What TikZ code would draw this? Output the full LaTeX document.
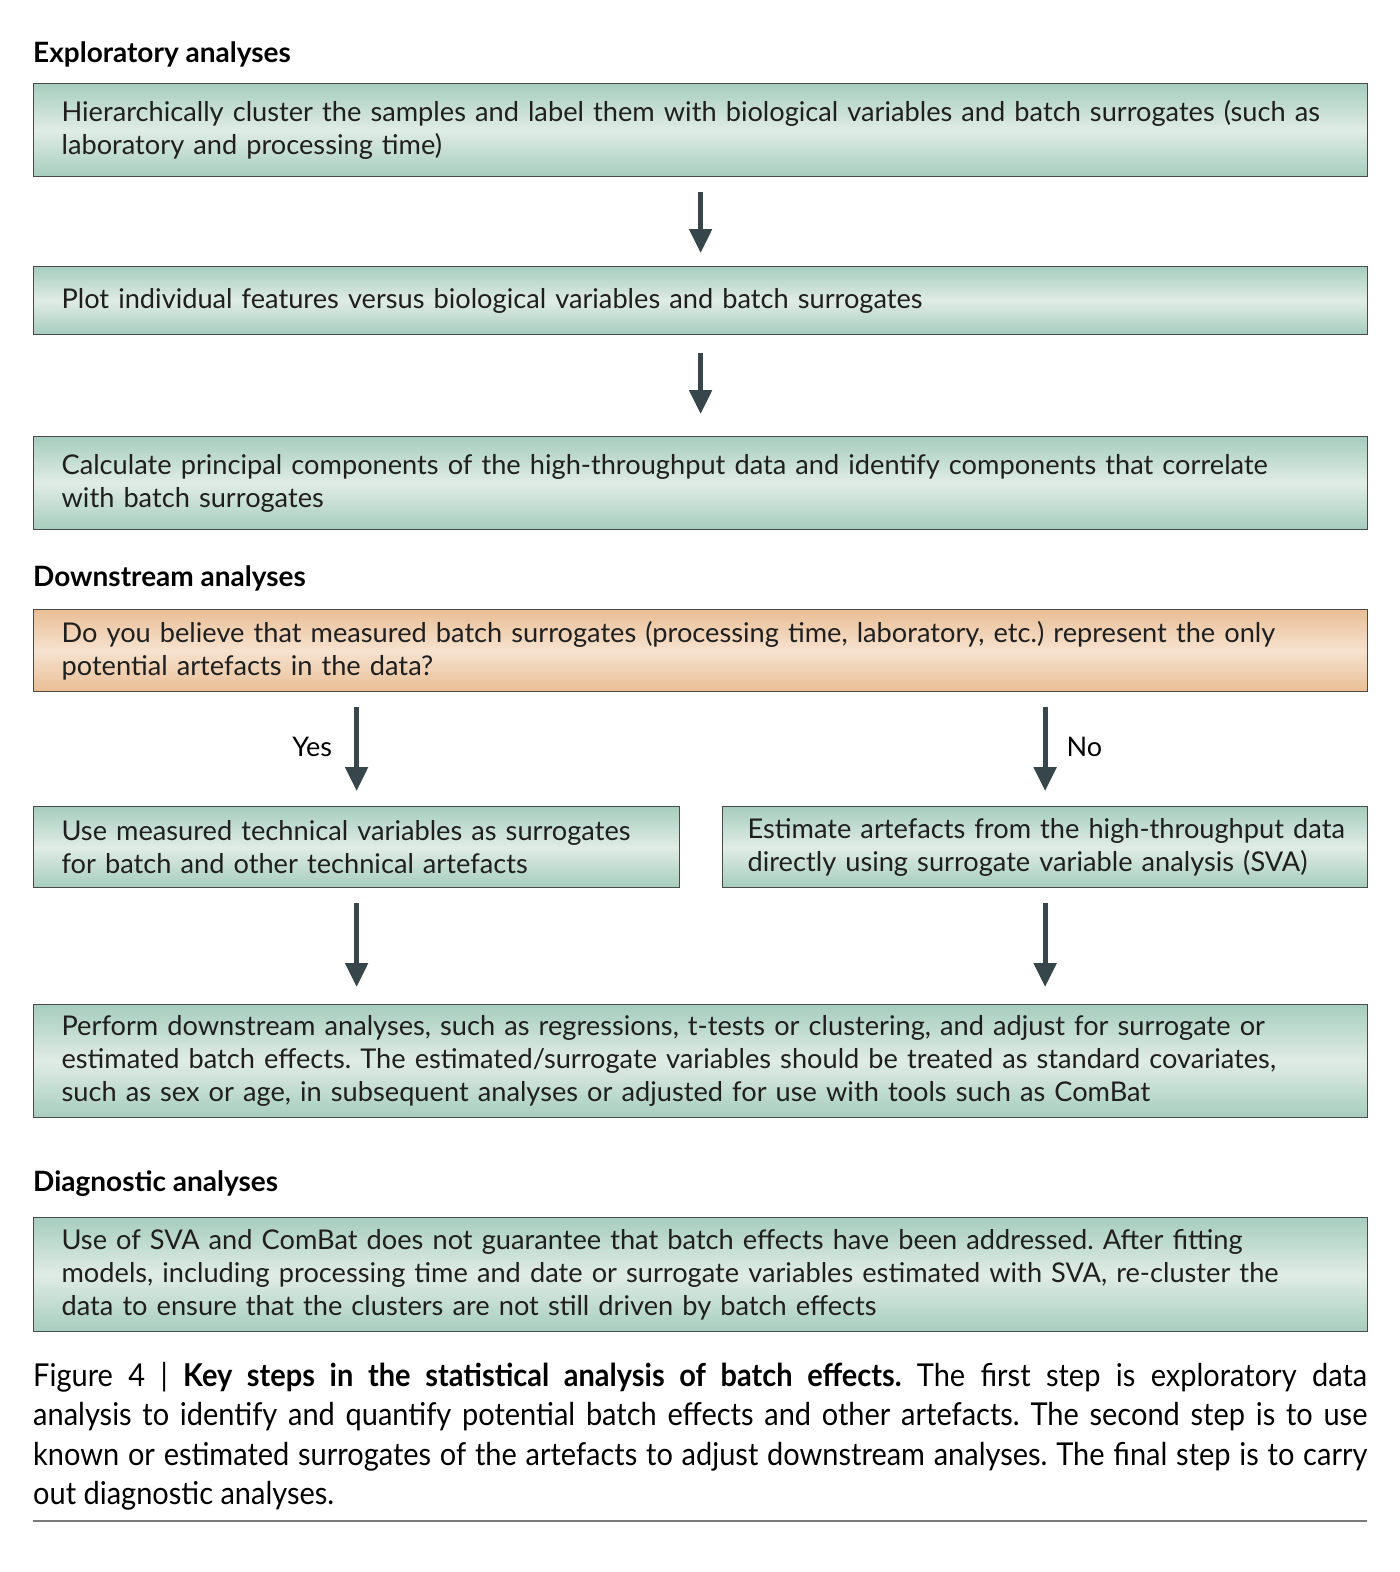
\documentclass[tikz,border=0pt]{standalone}
\usepackage{fontspec}
\setmainfont{Lato}
\newfontfamily\capfont[FakeStretch=0.92]{Lato}
\usetikzlibrary{arrows.meta,calc}
\frenchspacing
\definecolor{tealedge}{HTML}{A6CDBF}
\definecolor{tealmid}{HTML}{E0ECE6}
\definecolor{orgedge}{HTML}{E9BE95}
\definecolor{orgmid}{HTML}{F6E2CF}
\definecolor{boxline}{HTML}{4A4A4A}
\definecolor{arrowcol}{HTML}{37464A}
\definecolor{rulecol}{HTML}{7A7A7A}
\tikzset{
  box/.style={draw=boxline, line width=1.2pt, anchor=north west, align=left,
    inner xsep=28pt, inner ysep=0pt, font=\fontsize{27.2}{33}\selectfont\frenchspacing, text=black!88},
  tealbox/.style={box, top color=tealedge, bottom color=tealedge, middle color=tealmid},
  orangebox/.style={box, top color=orgedge, bottom color=orgedge, middle color=orgmid},
  heading/.style={anchor=west, inner sep=0pt, font=\fontsize{28}{30}\selectfont\bfseries},
  flowarrow/.style={draw=arrowcol, line width=5pt, -{Triangle[width=22pt,length=24pt]}},
  answer/.style={font=\fontsize{27}{30}\selectfont, inner sep=0pt},
  capline/.style={anchor=base west, inner sep=0pt, font=\capfont\fontsize{31.5}{39}\selectfont\frenchspacing}
}
\begin{document}
\begin{tikzpicture}[x=1pt,y=-1pt]
\useasboundingbox (0,0) rectangle (1400,1572);
\fill[white] (0,0) rectangle (1400,1572);

% Exploratory analyses
\node[heading] (h1) at (33,54) {Exploratory analyses};
\node[tealbox, text width=1278pt, minimum height=93pt] (b1) at (33,83)
  {Hierarchically cluster the samples and label them with biological variables and batch surrogates (such as\\laboratory and processing time)};
\node[tealbox, text width=1278pt, minimum height=68pt] (b2) at (33,266)
  {Plot individual features versus biological variables and batch surrogates};
\node[tealbox, text width=1278pt, minimum height=93pt] (b3) at (33,436)
  {Calculate principal components of the high-throughput data and identify components that correlate\\with batch surrogates};

\draw[flowarrow] ([yshift=-15pt]b1.south) -- ([yshift=13pt]b2.north);
\draw[flowarrow] ([yshift=-18pt]b2.south) -- ([yshift=22pt]b3.north);

% Downstream analyses
\node[heading] (h2) at (33,578) {Downstream analyses};
\node[orangebox, text width=1278pt, minimum height=82pt] (b4) at (33,609)
  {Do you believe that measured batch surrogates (processing time, laboratory, etc.) represent the only\\potential artefacts in the data?};
\node[tealbox, text width=590pt, minimum height=81pt] (b5) at (33,806)
  {Use measured technical variables as surrogates\\for batch and other technical artefacts};
\node[tealbox, text width=621pt, minimum height=81pt, inner xsep=12pt] (b6) at (722,806)
  {\hspace*{13pt}Estimate artefacts from the high-throughput data\\\hspace*{13pt}directly using surrogate variable analysis (SVA)};
\node[tealbox, text width=1278pt, minimum height=113pt] (b7) at (33,1004)
  {Perform downstream analyses, such as regressions, t-tests or clustering, and adjust for surrogate or\\estimated batch effects. The estimated/surrogate variables should be treated as standard covariates,\\such as sex or age, in subsequent analyses or adjusted for use with tools such as ComBat};

\draw[flowarrow] ([yshift=-15pt]b4.south -| b5.north) -- ([yshift=15pt]b5.north)
  node[answer, pos=0.47, left=22pt] (yes) {Yes};
\draw[flowarrow] ([yshift=-15pt]b4.south -| b6.north) -- ([yshift=15pt]b6.north)
  node[answer, pos=0.47, right=19pt] (no) {No};
\draw[flowarrow] ([yshift=-15pt]b5.south) -- ([yshift=17pt]b5.south |- b7.north);
\draw[flowarrow] ([yshift=-15pt]b6.south) -- ([yshift=17pt]b6.south |- b7.north);

% Diagnostic analyses
\node[heading] (h3) at (33,1184) {Diagnostic analyses};
\node[tealbox, text width=1278pt, minimum height=114pt] (b8) at (33,1217)
  {Use of SVA and ComBat does not guarantee that batch effects have been addressed. After fitting\\models, including processing time and date or surrogate variables estimated with SVA, re-cluster the\\data to ensure that the clusters are not still driven by batch effects};

% Caption
\node[capline] (c1) at (33,1386) {\makebox[1334pt][s]{Figure 4 | \textbf{Key steps in the statistical analysis of batch effects.} The first step is exploratory data}};
\node[capline] (c2) at (33,1425) {\makebox[1334pt][s]{analysis to identify and quantify potential batch effects and other artefacts. The second step is to use}};
\node[capline] (c3) at (33,1465) {\makebox[1334pt][s]{known or estimated surrogates of the artefacts to adjust downstream analyses. The final step is to carry}};
\node[capline] (c4) at (33,1504) {out diagnostic analyses.};
\draw[rulecol, line width=1.5pt] (33,1521) -- (1367,1521);
\end{tikzpicture}
\end{document}
